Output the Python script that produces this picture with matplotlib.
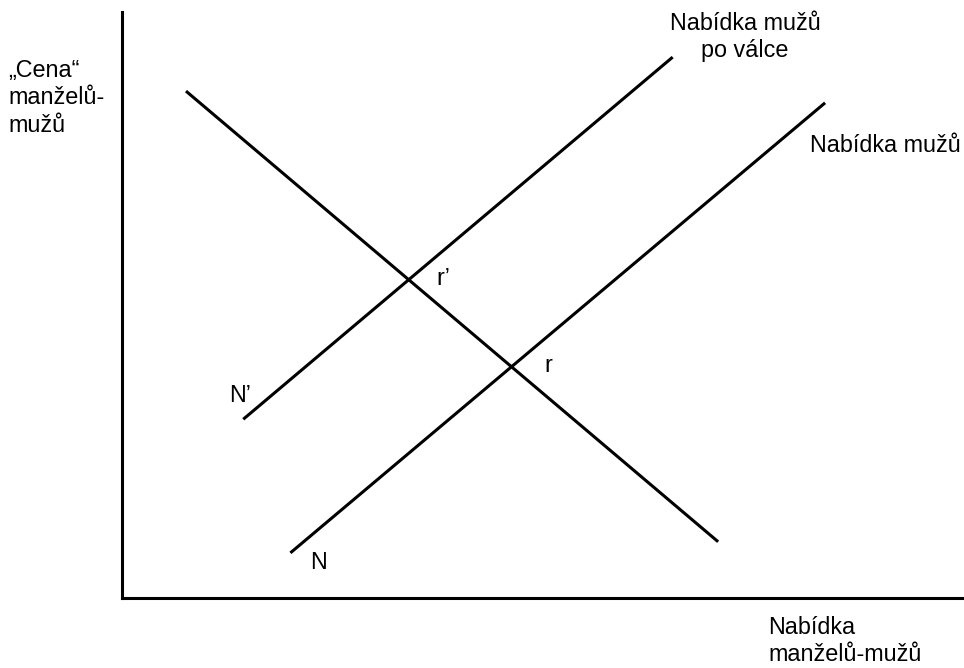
import matplotlib
matplotlib.use('Agg')
import matplotlib.pyplot as plt

plt.rcParams['font.family'] = ['Liberation Sans', 'DejaVu Sans']

# křivky (množství, cena) - koncové body
poptavka_x = [0.76, 7.08]
poptavka_y = [8.65, 0.96]
nabidka_po_valce_x = [1.44, 6.54]
nabidka_po_valce_y = [3.05, 9.23]
nabidka_x = [2.00, 8.35]
nabidka_y = [0.77, 8.45]

# popisky bodů
bod_popisky = ["N'", "N", "r'", "r"]
bod_x = [1.40, 2.33, 3.82, 5.06]
bod_y = [3.46, 0.61, 5.46, 3.96]

W, H = 964, 668
FS = 16.8
fig = plt.figure(figsize=(W / 100, H / 100), dpi=100)
ax = fig.add_axes([122 / W, (H - 598) / H, (W - 122) / W, (598 - 12) / H])

ax.plot(poptavka_x, poptavka_y, color='black', lw=2.2, solid_capstyle='butt')
ax.plot(nabidka_po_valce_x, nabidka_po_valce_y, color='black', lw=2.2, solid_capstyle='butt')
ax.plot(nabidka_x, nabidka_y, color='black', lw=2.2, solid_capstyle='butt')

for t, x, y in zip(bod_popisky, bod_x, bod_y):
    ax.text(x, y, t.replace("'", "\u2019"), fontsize=FS, ha='center', va='center')

ax.set_xlim(0, 10)
ax.set_ylim(0, 10)
ax.set_xticks([])
ax.set_yticks([])
ax.spines['top'].set_visible(False)
ax.spines['right'].set_visible(False)
ax.spines['left'].set_linewidth(2.2)
ax.spines['bottom'].set_linewidth(2.2)
ax.patch.set_alpha(0)

fig.text(8 / W, 1 - 98 / H, '\u201eCena\u201c\nmanželů-\nmužů', fontsize=FS,
         ha='left', va='center', linespacing=1.25)
fig.text(745 / W, 1 - 37 / H, 'Nabídka mužů\npo válce', fontsize=FS,
         ha='center', va='center', linespacing=1.25)
fig.text(810 / W, 1 - 145 / H, 'Nabídka mužů', fontsize=FS, ha='left', va='center')
fig.text(768 / W, 1 - 641 / H, 'Nabídka\nmanželů-mužů', fontsize=FS,
         ha='left', va='center', linespacing=1.2)

fig.savefig('out.png', dpi=100)
